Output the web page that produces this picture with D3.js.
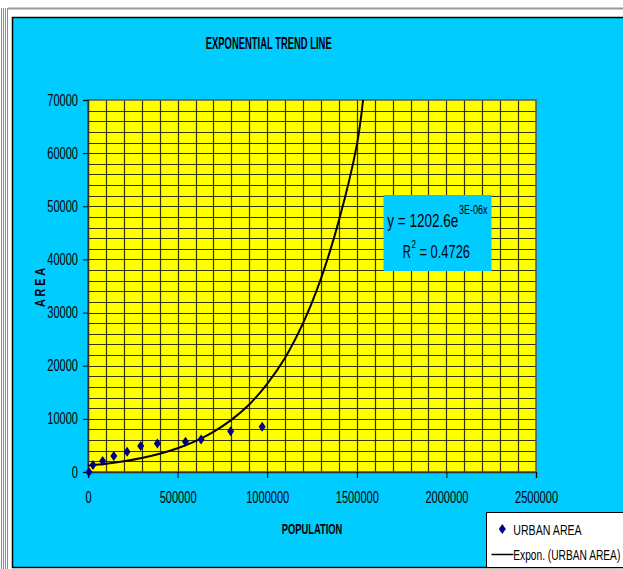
<!DOCTYPE html>
<html>
<head>
<meta charset="utf-8">
<script src="https://cdn.jsdelivr.net/npm/d3@7"></script>
<style>
  body { margin: 0; background: #fff; }
  svg { display: block; font-family: "Liberation Sans", Arial, sans-serif; }
</style>
</head>
<body>
<div id="chart"></div>
<script>
// urban area vs population
const population = [5000, 27800, 81600, 144000, 218000, 294000, 387000, 544000, 631000, 796000, 972000];
const urbanArea  = [0, 1300, 2060, 3000, 3800, 4880, 5380, 5690, 6130, 7690, 8500];

// exponential trend line
const trendPop  = [0, 100000, 200000, 300000, 400000, 500000, 600000, 700000, 800000, 900000, 1000000, 1100000, 1200000, 1300000, 1400000, 1500000, 1535000];
const trendArea = [1200, 1560, 2030, 2640, 3430, 4460, 5800, 7540, 9800, 12700, 16600, 21500, 28000, 36400, 47300, 61500, 70000];

const xTicks = [0, 500000, 1000000, 1500000, 2000000, 2500000];
const yTicks = [0, 10000, 20000, 30000, 40000, 50000, 60000, 70000];

const W = 623, H = 569;
const plot = {left: 88, right: 536, top: 100, bottom: 472};
const BLUE = "#00ccff", YELLOW = "#ffff00";

const svg = d3.select("#chart").append("svg")
    .attr("width", W).attr("height", H);

// outer frame
svg.append("rect").attr("x", 0).attr("y", 0).attr("width", W).attr("height", H).attr("fill", "#fff");
[1, 3, 5, 7].forEach(x => {
    svg.append("line").attr("x1", x + 0.5).attr("x2", x + 0.5).attr("y1", 8).attr("y2", H)
        .attr("stroke", "#8a8a8a").attr("stroke-width", 1);
});
svg.append("line").attr("x1", 8).attr("x2", W).attr("y1", 8.5).attr("y2", 8.5)
    .attr("stroke", "#9a9a9a").attr("stroke-width", 2);
svg.append("rect")
    .attr("x", 12.5).attr("y", 17.5).attr("width", W).attr("height", 550)
    .attr("fill", BLUE).attr("stroke", "#000").attr("stroke-width", 1.5);

const x = d3.scaleLinear().domain([0, 2500000]).range([plot.left, plot.right]);
const y = d3.scaleLinear().domain([0, 70000]).range([plot.bottom, plot.top]);

// plot area
svg.append("rect")
    .attr("x", plot.left).attr("y", plot.top)
    .attr("width", plot.right - plot.left).attr("height", plot.bottom - plot.top)
    .attr("fill", YELLOW);

const gridG = svg.append("g").attr("class", "grid");
gridG.selectAll(".vg")
    .data(d3.range(100000, 2500000, 100000))
    .join("line")
    .attr("x1", d => Math.round(x(d)) + 0.5).attr("x2", d => Math.round(x(d)) + 0.5)
    .attr("y1", plot.top).attr("y2", plot.bottom)
    .attr("stroke", "#000").attr("stroke-opacity", 0.8).attr("stroke-width", 1.2);
gridG.selectAll(".hg")
    .data(d3.range(2000, 70000, 2000))
    .join("line")
    .attr("y1", d => Math.round(y(d)) + 0.5).attr("y2", d => Math.round(y(d)) + 0.5)
    .attr("x1", plot.left).attr("x2", plot.right)
    .attr("stroke", "#000").attr("stroke-opacity", 0.8).attr("stroke-width", 1.2);

svg.append("rect")
    .attr("x", plot.left).attr("y", plot.top)
    .attr("width", plot.right - plot.left).attr("height", plot.bottom - plot.top)
    .attr("fill", "none").attr("stroke", "#555").attr("stroke-width", 1.5);

// axes
const fmt = d3.format("d");
const xAxisG = svg.append("g")
    .attr("transform", "translate(0," + plot.bottom + ")")
    .call(d3.axisBottom(x).tickValues(xTicks).tickFormat(fmt).tickSize(6).tickPadding(14));
const yAxisG = svg.append("g")
    .attr("transform", "translate(" + plot.left + ",0)")
    .call(d3.axisLeft(y).tickValues(yTicks).tickFormat(fmt).tickSize(5).tickPadding(5));

[xAxisG, yAxisG].forEach(g => {
    g.select(".domain").attr("stroke", "#333").attr("stroke-width", 1.5);
    g.selectAll(".tick line").attr("stroke", "#000");
    g.selectAll("text")
        .attr("font-family", "Liberation Sans, Arial, sans-serif")
        .attr("font-size", 16)
        .attr("fill", "#000")
        .attr("textLength", d => fmt(d).length * 6.15)
        .attr("lengthAdjust", "spacingAndGlyphs");
});

// trend line
const line = d3.line()
    .x((d, i) => x(trendPop[i]))
    .y(d => y(d))
    .curve(d3.curveCatmullRom.alpha(0.5));
svg.append("path")
    .datum(trendArea)
    .attr("d", line)
    .attr("fill", "none")
    .attr("stroke", "#000")
    .attr("stroke-width", 2);

// points
const diamond = "M0,-5L3.5,0L0,5L-3.5,0Z";
svg.selectAll(".pt")
    .data(population)
    .join("path")
    .attr("class", "pt")
    .attr("d", diamond)
    .attr("transform", (d, i) => "translate(" + x(d) + "," + y(urbanArea[i]) + ")")
    .attr("fill", "#000080");

// labels
function label(txt, px, py, size, len, opts = {}) {
    const t = svg.append("text")
        .attr("x", px).attr("y", py)
        .attr("font-size", size)
        .attr("font-weight", opts.bold ? "bold" : "normal")
        .attr("text-anchor", opts.anchor || "start")
        .attr("fill", "#000")
        .attr("textLength", len)
        .attr("lengthAdjust", "spacingAndGlyphs")
        .text(txt);
    if (opts.rotate) t.attr("transform", "rotate(" + opts.rotate + "," + px + "," + py + ")");
    return t;
}

label("EXPONENTIAL TREND LINE", 268.7, 49.3, 17, 126, {bold: true, anchor: "middle"});
label("POPULATION", 312, 533.5, 15, 60.7, {bold: true, anchor: "middle"});
label("A R E A", 45, 287.5, 15, 39, {bold: true, anchor: "middle", rotate: -90});

// equation box
svg.append("rect")
    .attr("x", 383.5).attr("y", 195).attr("width", 108).attr("height", 76)
    .attr("fill", BLUE);
label("y = 1202.6e", 387.3, 227, 18.5, 71);
label("3E-06x", 459, 214, 12, 28.5);
label("R", 402.7, 257.7, 18.5, 8);
label("2", 411.5, 248, 11, 4.5);
label("= 0.4726", 419.5, 257.7, 18.5, 50.5);

// legend
svg.append("rect")
    .attr("x", 486.5).attr("y", 512.5).attr("width", 200).attr("height", 55)
    .attr("fill", "#fff").attr("stroke", "#000").attr("stroke-width", 1);
svg.append("path").attr("d", diamond)
    .attr("transform", "translate(502.3,529)")
    .attr("fill", "#000080");
label("URBAN AREA", 513.3, 534.5, 15, 68.4);
svg.append("line")
    .attr("x1", 491.5).attr("x2", 513.3).attr("y1", 554.5).attr("y2", 554.5)
    .attr("stroke", "#000").attr("stroke-width", 1.5);
label("Expon. (URBAN AREA)", 513.3, 559.5, 15, 107);
</script>
</body>
</html>
